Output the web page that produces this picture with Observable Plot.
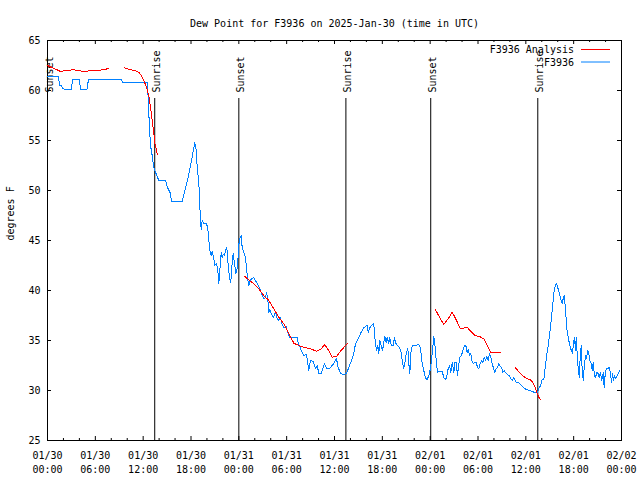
<!DOCTYPE html>
<html><head><meta charset="utf-8">
<script src="https://cdn.jsdelivr.net/npm/d3@7"></script>
<script src="https://cdn.jsdelivr.net/npm/@observablehq/plot@0.6"></script>
<style>body{margin:0;background:#fff}svg{display:block}</style>
</head><body><div id="chart"></div>
<script>
// ---- Data (hours since 2025-01-30 00:00 UTC) ----
const titleText = "Dew Point for F3936 on 2025-Jan-30 (time in UTC)";
const yLabel = "degrees F";
const seriesNames = ["F3936 Analysis", "F3936"];
const seriesColors = ["#ff0000", "#0080ff"];
const yTicks = [25, 30, 35, 40, 45, 50, 55, 60, 65];
const eventHours = [0, 13.45, 24.0, 37.43, 48.07, 61.5];
const eventLabels = ["Sunset", "Sunrise", "Sunset", "Sunrise", "Sunset", "Sunrise"];

const obsHours = [0,1.38,1.51,1.76,1.88,2.26,2.89,3.01,3.14,4.01,4.14,4.95,5.14,9.28,9.41,12.54,12.79,12.92,13.13,13.33,13.46,13.96,14.80,15.05,15.43,15.55,16.90,17.31,17.69,18.06,18.48,18.65,18.78,18.98,19.10,19.19,19.28,19.41,19.61,19.94,20.11,20.36,20.53,20.66,20.79,20.99,21.20,21.36,21.49,21.61,21.79,21.91,22.04,22.20,22.37,22.49,22.67,22.83,22.99,23.12,23.29,23.46,23.62,23.80,23.92,24.05,24.17,24.30,24.42,24.62,24.84,24.96,25.09,25.25,25.38,25.68,25.88,26.09,26.30,26.50,26.72,26.93,27.13,27.35,27.47,27.63,27.76,27.89,28.06,28.31,28.60,28.81,29.01,29.23,29.35,29.64,29.94,30.14,30.39,30.69,31.32,31.45,31.74,31.95,32.15,32.49,32.78,32.99,33.33,33.62,33.83,34.03,34.33,34.58,34.75,35.00,35.29,35.50,35.91,36.25,36.42,36.75,37.17,37.51,37.79,38.22,38.42,38.64,38.85,39.05,39.26,39.48,39.68,39.89,40.10,40.23,40.39,40.61,40.86,40.98,41.11,41.27,41.43,41.56,41.68,41.86,42.02,42.19,42.31,42.49,42.61,42.81,42.94,43.11,43.36,43.53,43.69,43.94,44.19,44.37,44.49,44.69,44.87,45.03,45.20,45.32,45.45,45.57,45.75,46.16,46.58,46.79,47.00,47.20,47.42,47.63,47.83,48.04,48.25,48.46,48.58,48.76,48.92,49.08,49.51,49.71,49.92,50.05,50.26,50.43,50.59,50.77,50.97,51.09,51.27,51.43,51.59,51.72,51.93,52.09,52.31,52.47,52.65,52.77,52.94,53.10,53.28,53.44,53.60,53.78,53.94,54.10,54.28,54.44,54.61,54.78,54.94,55.11,55.28,55.44,55.61,55.78,55.95,56.11,56.28,56.45,56.61,56.79,56.95,57.11,57.29,57.45,57.61,57.79,57.95,58.12,58.29,58.46,58.62,58.79,59.12,59.46,59.80,60.12,60.46,60.80,61.13,61.46,61.63,61.84,62.05,62.26,62.38,62.51,62.59,62.76,62.93,63.10,63.26,63.39,63.51,63.64,63.81,63.94,64.10,64.26,64.44,64.56,64.69,64.81,64.94,65.07,65.19,65.32,65.44,65.61,65.73,65.86,65.98,66.11,66.23,66.32,66.44,66.57,66.70,66.82,66.95,67.07,67.20,67.36,67.49,67.61,67.78,67.90,68.03,68.20,68.33,68.45,68.61,68.74,68.90,69.08,69.20,69.37,69.53,69.71,69.83,69.96,70.12,70.28,70.46,70.62,70.75,70.87,71.00,71.12,71.29,71.46,71.63,71.79];
const obsValues = [61.4,61.4,60.5,60.5,60.2,60.1,60.1,60.1,61.1,61.1,60.1,60.1,61.1,61.1,60.8,60.8,56.3,54.5,53.5,52.3,52.0,51.0,51.0,50.3,49.7,48.9,48.9,50.2,51.5,53.0,54.8,54.0,52.3,50.8,48.5,47.0,46.1,47.0,46.7,46.7,46.2,44.0,43.5,43.9,43.5,42.5,42.7,42.0,40.7,42.0,43.8,43.3,43.6,43.5,44.1,44.3,42.5,41.3,40.8,42.3,43.7,42.7,41.7,42.2,43.5,45.0,45.3,45.5,44.3,43.8,43.3,42.3,41.3,40.5,41.0,41.2,41.3,41.0,40.7,40.4,40.0,39.5,39.2,39.3,39.8,39.2,37.8,38.1,37.7,37.3,37.8,37.2,37.0,37.3,36.8,36.3,36.4,35.8,35.3,35.3,35.3,34.7,34.2,33.8,33.5,33.6,32.0,33.0,32.9,32.2,32.5,31.7,31.7,32.3,32.7,32.2,32.2,32.3,32.7,33.2,32.4,31.7,31.6,31.7,32.3,33.2,33.7,34.7,35.0,35.3,35.7,36.0,36.3,36.4,36.5,35.8,36.2,36.5,36.7,36.3,34.8,34.0,34.5,33.7,35.0,34.5,34.0,34.8,35.4,34.8,35.3,34.7,35.3,34.5,34.5,35.3,34.7,34.5,34.2,33.8,33.0,32.2,33.0,33.8,34.2,32.7,31.7,33.7,34.5,34.5,34.6,34.2,32.7,32.0,31.2,31.1,31.5,32.2,33.7,35.4,34.7,33.0,31.8,31.9,31.9,31.3,31.1,31.3,32.2,32.5,31.8,32.8,31.8,32.8,32.8,31.5,32.6,33.3,33.5,34.0,34.5,34.5,33.8,34.1,33.5,33.7,32.8,32.7,32.8,32.8,32.3,32.2,32.7,33.0,32.8,33.3,33.0,33.4,33.0,33.7,33.3,32.7,32.2,31.8,32.2,32.3,32.7,32.4,32.3,31.8,32.0,31.8,31.7,31.5,31.5,31.2,31.0,31.3,31.1,30.8,30.8,30.5,30.2,30.1,30.0,29.9,29.8,29.8,30.2,30.5,31.1,31.1,32.0,32.7,33.5,34.2,35.3,36.3,37.7,38.7,39.7,40.3,40.7,40.5,40.0,39.5,39.0,38.7,39.2,39.5,38.5,37.0,35.8,35.3,34.8,34.2,34.0,33.7,34.8,35.3,34.0,35.3,33.7,32.2,31.3,33.3,34.5,32.0,31.0,32.7,33.5,33.2,34.0,33.7,33.0,32.7,32.0,32.8,31.5,31.3,31.8,31.7,31.3,31.8,31.0,31.8,30.3,31.7,32.2,32.2,32.3,31.7,30.8,31.7,31.0,31.5,31.2,31.5,31.8,32.0];

// analysis series; null values mark the gaps between segments
const anaHours = [0,0.59,1.22,1.63,2.26,3.30,3.93,4.55,5.18,6.02,6.86,7.28,7.69,8.6,9.66,10.29,10.91,11.45,11.75,12.12,12.45,12.75,12.97,13.18,13.34,13.47,13.64,13.76,19,24.75,25.25,25.88,26.50,27.13,27.76,28.39,29.01,29.64,30.27,30.90,31.52,32.15,32.99,33.74,34.24,34.78,35.41,35.71,36.25,36.75,37.17,37.59,43,48.67,49.17,49.71,50.26,50.77,51.27,51.77,52.27,52.65,53.06,53.60,54.19,54.73,55.16,55.57,55.78,56.79,57.8,58.71,59.33,59.96,60.71,61.13,61.43,61.63,61.84];
const anaValues = [62.5,62.27,62.07,61.9,62.0,62.07,62.0,61.87,61.97,61.97,62.07,62.13,62.2,null,62.27,62.1,62.0,61.83,61.5,60.9,60.3,59.3,58.0,56.7,55.7,54.7,54.2,53.6,null,41.4,41.07,40.67,40.17,39.5,39.0,38.17,37.33,36.67,35.67,34.73,34.5,34.33,34.17,33.93,34.1,34.6,33.83,33.33,33.4,33.93,34.3,34.67,null,38.07,37.33,36.6,37.17,37.83,37.07,36.17,36.25,36.33,35.93,35.5,35.4,35.17,34.5,33.83,33.77,33.77,null,32.27,31.67,31.27,31.0,30.4,29.73,29.33,29.07];

// ---- Build ----
const t0 = Date.UTC(2025, 0, 30);
const toDate = h => new Date(t0 + h * 3600e3);
const start = toDate(0), end = toDate(72);
const obs = obsHours.map((h, i) => ({t: toDate(h), v: obsValues[i]}));
const ana = anaHours.map((h, i) => ({t: toDate(h), v: anaValues[i]}));
const events = eventHours.map((h, i) => ({t: toDate(h), label: eventLabels[i]}));
const majorTicks = d3.utcHour.every(6).range(start, toDate(72.01));
const minorTicks = d3.utcHour.every(2).range(start, toDate(72.01)).filter(d => d.getUTCHours() % 6 !== 0);

const font = "'DejaVu Sans Mono', monospace";
const frameW = 640 - 47 - 19, frameH = 480 - 40 - 40;

const chart = Plot.plot({
  width: 640, height: 480,
  marginLeft: 47, marginRight: 19, marginTop: 40, marginBottom: 40,
  style: {fontFamily: font, fontSize: "10px", background: "#fff", color: "#000", overflow: "visible"},
  x: {type: "utc", domain: [start, end]},
  y: {domain: [25, 65]},
  marks: [
    Plot.frame({stroke: "#000", strokeWidth: 1}),
    // inward ticks
    Plot.ruleX(majorTicks, {x: d => d, insetTop: frameH - 4, stroke: "#000"}),
    Plot.ruleX(majorTicks, {x: d => d, insetBottom: frameH - 4, stroke: "#000"}),
    Plot.ruleX(minorTicks, {x: d => d, insetTop: frameH - 2, stroke: "#000"}),
    Plot.ruleX(minorTicks, {x: d => d, insetBottom: frameH - 2, stroke: "#000"}),
    Plot.ruleY(yTicks, {y: d => d, insetRight: frameW - 4, stroke: "#000"}),
    Plot.ruleY(yTicks, {y: d => d, insetLeft: frameW - 4, stroke: "#000"}),
    Plot.axisY({ticks: yTicks, tickSize: 0, tickPadding: 7, label: null}),
    Plot.axisX({ticks: majorTicks, tickSize: 0, tickPadding: 9, lineHeight: 1.35,
      tickFormat: d3.utcFormat("%m/%d\n%H:%M"), label: null}),
    // sunrise / sunset
    Plot.ruleX(events, {x: "t", insetTop: 58, stroke: "#000"}),
    Plot.text(events, {x: "t", text: "label", frameAnchor: "top", dy: 52, dx: -2, rotate: -90, textAnchor: "start", fill: "#000"}),
    // series
    Plot.line(obs, {x: "t", y: "v", stroke: seriesColors[1], strokeWidth: 1, shapeRendering: "crispEdges"}),
    Plot.line(ana, {x: "t", y: "v", stroke: seriesColors[0], strokeWidth: 1, shapeRendering: "crispEdges"}),
    // titles
    Plot.text([titleText], {text: d => d, frameAnchor: "top", dy: -21, fill: "#000"}),
    Plot.text([yLabel], {text: d => d, frameAnchor: "left", rotate: -90, dx: -37, fill: "#000"})
  ]
});

// legend (gnuplot-style, inside the top-right of the frame)
const svg = d3.select(chart);
const lg = svg.append("g").attr("font-family", font).attr("font-size", 10);
seriesNames.forEach((name, i) => {
  const y = 50 + i * 12.5;
  lg.append("text").attr("x", 574).attr("y", y).attr("dy", "0.32em").attr("text-anchor", "end").attr("fill", "#000").text(name);
  lg.append("line").attr("x1", 581).attr("x2", 610).attr("y1", y - 0.5).attr("y2", y - 0.5).attr("stroke", seriesColors[i]).attr("stroke-width", 1);
});

document.getElementById("chart").appendChild(chart);
</script>
</body></html>
